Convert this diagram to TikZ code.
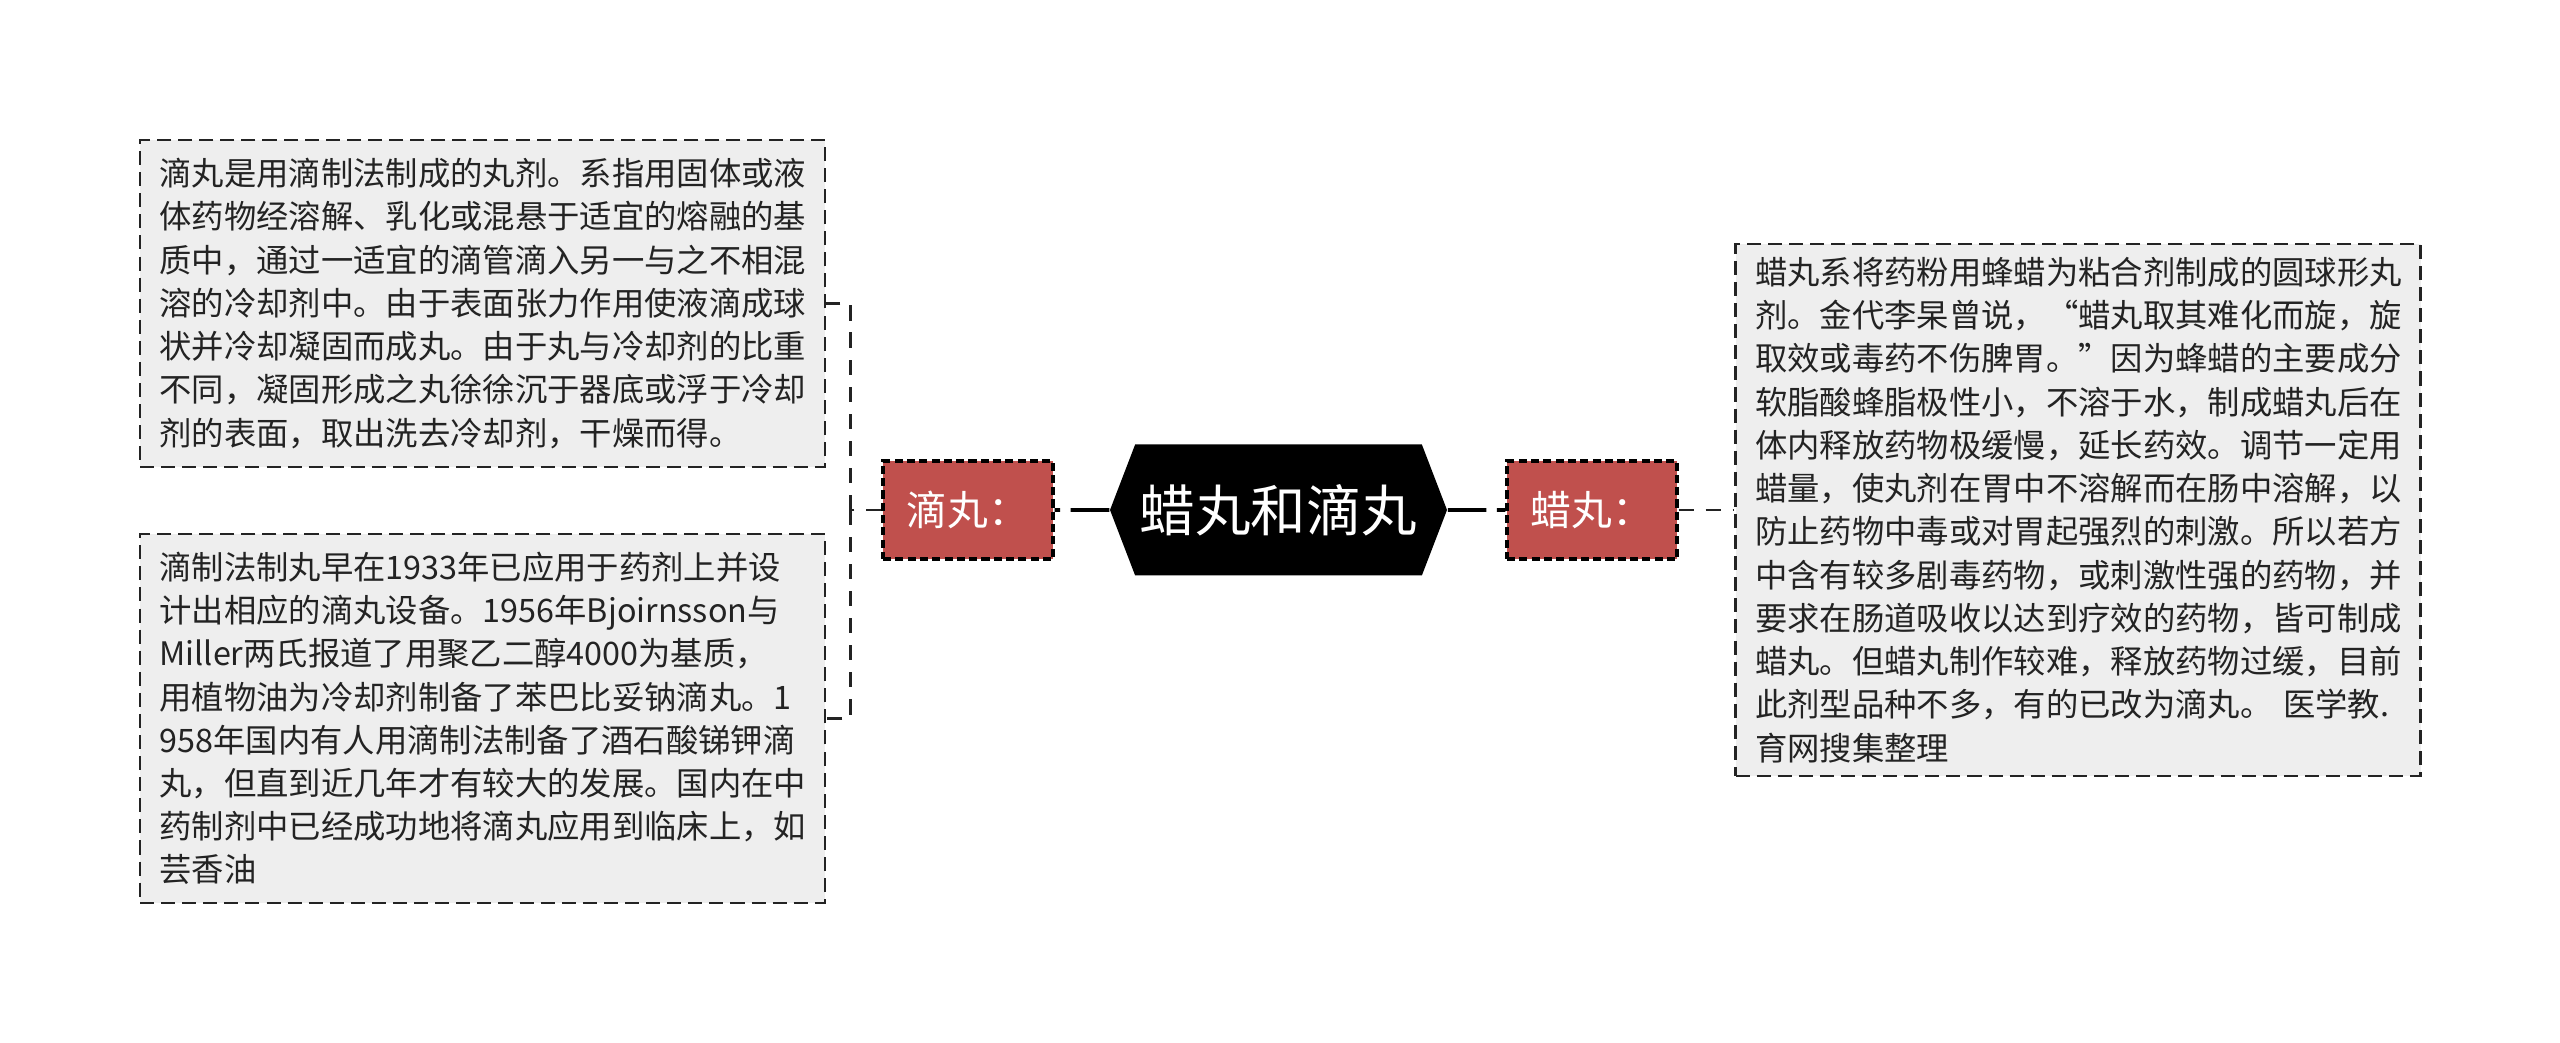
\documentclass[tikz,border=0pt]{standalone}
\usepackage{fontspec}
\setmainfont{Noto Sans CJK SC}
\usetikzlibrary{shapes.symbols, positioning}
\definecolor{topicred}{RGB}{192, 80, 77}
\definecolor{notegray}{RGB}{238, 238, 238}
\definecolor{inkgray}{RGB}{35, 35, 35}
\tikzset{
    topic/.style={signal, signal to=west and east, signal pointer angle=138, fill=black, text=white, inner sep=0pt, minimum width=3.37cm, minimum height=1.31cm, font=\fontsize{15.8pt}{18pt}\selectfont},
    subtopic/.style={rectangle, draw=black, line width=0.9pt, dash pattern=on 2.3pt off 1.2pt, fill=topicred, text=white, minimum width=1.70cm, minimum height=0.98cm, inner sep=0pt, font=\fontsize{11.6pt}{13pt}\selectfont},
    notebox/.style={rectangle, draw=inkgray, line width=0.75pt, dash pattern=on 4pt off 2pt, fill=notegray, text=inkgray, text width=6.46cm, inner xsep=0.195cm, inner ysep=0pt, align=left, font=\fontsize{9.2pt}{12.3pt}\selectfont},
    mainlink/.style={line width=1.1pt, dash pattern=on 11pt off 3pt},
    notelink/.style={line width=0.75pt, draw=inkgray, dash pattern=on 4.3pt off 3.4pt},
}

\begin{document}
\begin{tikzpicture}
    \useasboundingbox (0,0) rectangle (25.6,10.43);

    % central topic
    \node[topic] (center) at (12.785, 5.33) {蜡丸和滴丸};

    % branches
    \node[subtopic] (dw) at (9.68, 5.33) {滴丸：};
    \node[subtopic] (lw) at (15.92, 5.33) {蜡丸：};

    % notes of the left branch
    \node[notebox, minimum height=3.27cm] (dwnote1) at (4.825, 7.395) {滴丸是用滴制法制成的丸剂。系指用固体或液\\
        体药物经溶解、乳化或混悬于适宜的熔融的基\\
        质中，通过一适宜的滴管滴入另一与之不相混\\
        溶的冷却剂中。由于表面张力作用使液滴成球\\
        状并冷却凝固而成丸。由于丸与冷却剂的比重\\
        不同，凝固形成之丸徐徐沉于器底或浮于冷却\\
        剂的表面，取出洗去冷却剂，干燥而得。};
    \node[notebox, minimum height=3.69cm] (dwnote2) at (4.825, 3.245) {滴制法制丸早在1933年已应用于药剂上并设\\
        计出相应的滴丸设备。1956年Bjoirnsson与\\
        Miller两氏报道了用聚乙二醇4000为基质，\\
        用植物油为冷却剂制备了苯巴比妥钠滴丸。1\\
        958年国内有人用滴制法制备了酒石酸锑钾滴\\
        丸，但直到近几年才有较大的发展。国内在中\\
        药制剂中已经成功地将滴丸应用到临床上，如\\
        芸香油};

    % note of the right branch
    \node[notebox, minimum height=5.32cm] (lwnote) at (20.78, 5.33) {蜡丸系将药粉用蜂蜡为粘合剂制成的圆球形丸\\
        剂。金代李杲曾说，“蜡丸取其难化而旋，旋\\
        取效或毒药不伤脾胃。”因为蜂蜡的主要成分\\
        软脂酸蜂脂极性小，不溶于水，制成蜡丸后在\\
        体内释放药物极缓慢，延长药效。调节一定用\\
        蜡量，使丸剂在胃中不溶解而在肠中溶解，以\\
        防止药物中毒或对胃起强烈的刺激。所以若方\\
        中含有较多剧毒药物，或刺激性强的药物，并\\
        要求在肠道吸收以达到疗效的药物，皆可制成\\
        蜡丸。但蜡丸制作较难，释放药物过缓，目前\\
        此剂型品种不多，有的已改为滴丸。 医学教.\\
        育网搜集整理};

    % connectors
    \coordinate[left=0.31cm of dw.west] (fork);
    \draw[mainlink] (center) -- (dw);
    \draw[mainlink] (center) -- (lw);
    \draw[notelink] (dw) -- (fork);
    \draw[notelink] (fork) |- (dwnote1);
    \draw[notelink] (fork) |- (dwnote2);
    \draw[notelink] (lw) -- (lwnote);
\end{tikzpicture}
\end{document}
